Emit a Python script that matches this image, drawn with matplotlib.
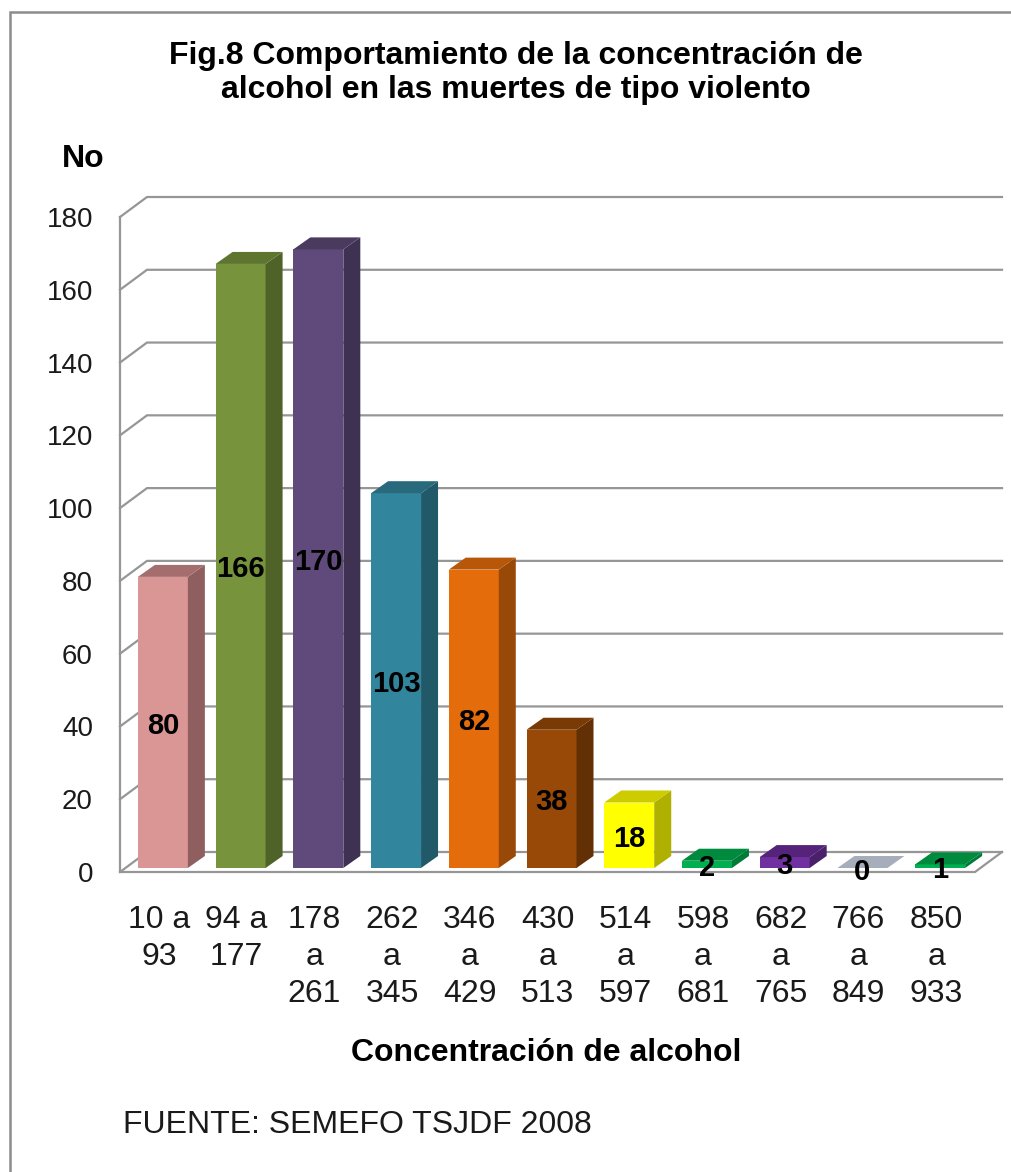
import numpy as np
import matplotlib
matplotlib.use('Agg')
import matplotlib.pyplot as plt
from matplotlib.patches import Polygon, Rectangle

plt.rcParams['font.family'] = ['Liberation Sans', 'DejaVu Sans']

# datos
rangos = ['10 a\n93', '94 a\n177', '178\na\n261', '262\na\n345', '346\na\n429', '430\na\n513',
          '514\na\n597', '598\na\n681', '682\na\n765', '766\na\n849', '850\na\n933']
valores = [80, 166, 170, 103, 82, 38, 18, 2, 3, 0, 1]
yticks = [0, 20, 40, 60, 80, 100, 120, 140, 160, 180]

c_frente = ['#D99694', '#77933C', '#604A7B', '#31859C', '#E46C0A', '#984807', '#FFFF00', '#00B050', '#7030A0', '#A6AEBB', '#00B050']
c_lado = ['#8E5F5E', '#4F6228', '#3F3151', '#215968', '#984807', '#632F04', '#B0B000', '#007A37', '#4A206A', '#A6AEBB', '#007A37']
c_arriba = ['#A56E6E', '#5E7530', '#4A3A5E', '#28697C', '#B85708', '#7A3A05', '#CCCC00', '#008A3E', '#55247A', '#A6AEBB', '#008A3E']

W, H = 1011, 1172
gris = '#969696'

fig = plt.figure(figsize=(W / 100, H / 100), dpi=100)

# marco del grafico
fig.add_artist(Rectangle((9.5 / W, -0.02), 1.1, 1 - 11.5 / H + 0.02, transform=fig.transFigure,
                         fill=False, edgecolor='#8C8C8C', linewidth=1.8))

# ejes: 0 en y=872, 180 en y=217, de x=120 a x=975
ax = fig.add_axes([120 / W, 1 - 872 / H, 855 / W, 655 / H])
ax.set_xlim(-0.5, 10.5)
ax.set_ylim(0, 180)
ax.patch.set_visible(False)
for s in ax.spines.values():
    s.set_visible(False)

px_x = 11 / 855  # unidades x por pixel
px_y = 180 / 655  # unidades y por pixel
fondo_x, fondo_y = 27 * px_x, 20 * px_y

# pared del fondo y ejes
for v in yticks:
    ax.plot([-0.5, -0.5 + fondo_x, 10.5 + fondo_x], [v, v + fondo_y, v + fondo_y],
            color=gris, lw=1.6, clip_on=False, zorder=1, solid_joinstyle='miter')
ax.plot([-0.5, -0.5, 10.5, 10.5 + fondo_x], [180, 0, 0, fondo_y], color=gris, lw=1.6,
        clip_on=False, zorder=1, solid_joinstyle='miter')

# barras 3D
ancho = 50 * px_x
prof_x, prof_y = 17 * px_x, 12 * px_y
base = 4 * px_y
corrim = 4 * px_x
for i, v in enumerate(valores):
    x0 = i + corrim - ancho / 2
    x1 = x0 + ancho
    y0 = base
    y1 = base + v
    arriba = [(x0, y1), (x1, y1), (x1 + prof_x, y1 + prof_y), (x0 + prof_x, y1 + prof_y)]
    if v == 0:
        ax.add_patch(Polygon(arriba, facecolor=c_arriba[i], edgecolor='none', zorder=3, clip_on=False))
    else:
        ax.add_patch(Rectangle((x0, y0), ancho, v, facecolor=c_frente[i], edgecolor='none', zorder=3, clip_on=False))
        lado = [(x1, y0), (x1 + prof_x, y0 + prof_y), (x1 + prof_x, y1 + prof_y), (x1, y1)]
        ax.add_patch(Polygon(lado, facecolor=c_lado[i], edgecolor='none', zorder=3, clip_on=False))
        ax.add_patch(Polygon(arriba, facecolor=c_arriba[i], edgecolor='none', zorder=3, clip_on=False))
    ax.text(i + corrim, y0 + v / 2 - 3.5 * px_y, str(v), ha='center', va='center', fontsize=21,
            fontweight='bold', color='black', zorder=5, clip_on=False)

# etiquetas de los ejes
ax.set_yticks(yticks)
ax.set_yticklabels([str(v) for v in yticks])
ax.tick_params(axis='y', length=0, pad=19.5, labelsize=20, colors='#1a1a1a')
ax.set_xticks(range(len(rangos)))
ax.set_xticklabels(rangos, linespacing=1.29)
ax.tick_params(axis='x', length=0, pad=24, labelsize=23, colors='#1a1a1a')

# textos
fig.text(516 / W, 1 - 73 / H, 'Fig.8 Comportamiento de la concentración de\nalcohol en las muertes de tipo violento',
         ha='center', va='center', fontsize=23, fontweight='bold', color='black', linespacing=1.215)
fig.text(83 / W, 1 - 159 / H, 'No', ha='center', va='center', fontsize=23, fontweight='bold')
fig.text(546 / W, 1 - 1053 / H, 'Concentración de alcohol', ha='center', va='center', fontsize=23, fontweight='bold')
fig.text(123 / W, 1 - 1125 / H, 'FUENTE: SEMEFO TSJDF 2008', ha='left', va='center', fontsize=23, color='#1a1a1a')

fig.savefig('out.png', dpi=100)
